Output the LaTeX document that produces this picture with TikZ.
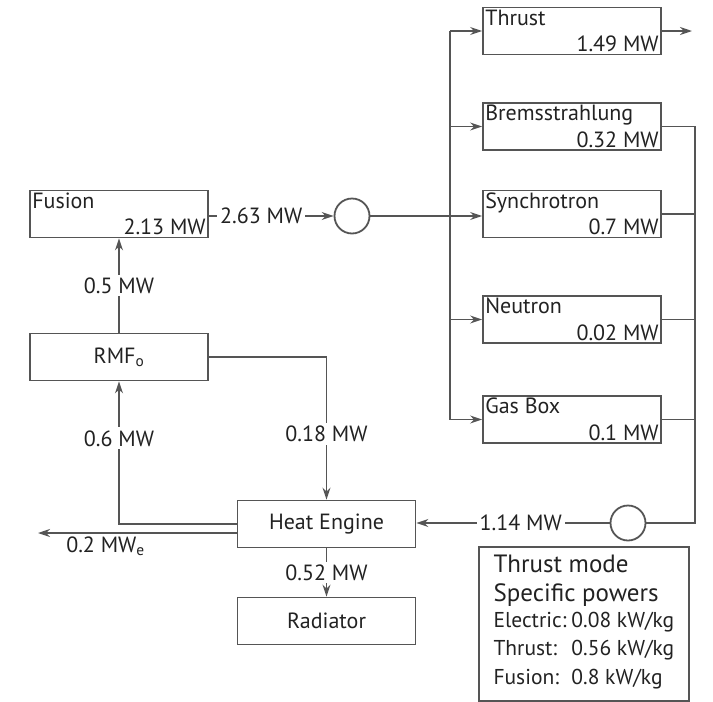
\documentclass[tikz,border=0pt]{standalone}
\usepackage{fontspec}
\setmainfont{PT Sans}
\usetikzlibrary{positioning,arrows.meta,calc}
\definecolor{linegray}{HTML}{555555}
\definecolor{txtgray}{HTML}{222222}

\begin{document}
\begin{tikzpicture}[
    x=1pt, y=-1pt,
    every node/.style={inner sep=3pt, text=txtgray, font=\fontsize{22}{26}\selectfont},
    >={Stealth[length=12pt,width=8pt]},
    box/.style={draw=linegray, line width=1.8pt, minimum width=178pt, minimum height=47pt},
    junc/.style={circle, draw=linegray, line width=1.8pt, minimum size=35pt, inner sep=0pt},
    flow/.style={draw=linegray, line width=1.8pt},
    val/.style={fill=white, inner sep=3pt}
]
\useasboundingbox (0,0) rectangle (713,702);

% Cajas de la izquierda
\node[box] (fusion) at (119,214) {};
\node[anchor=north west] (fusionT) at (fusion.north west) {Fusion};
\node[anchor=south east] (fusionV) at (fusion.south east) {2.13 MW};
\node[box] (rmf) at (119,357) {RMF\textsubscript{o}};
\node[box] (heat) at (326.5,524) {Heat Engine};
\node[box] (rad) at (326.5,621) {Radiator};

% Cajas de la derecha
\node[box] (thrust) at (572,31) {};
\node[anchor=north west] (thrustT) at (thrust.north west) {Thrust};
\node[anchor=south east] (thrustV) at (thrust.south east) {1.49 MW};
\node[box] (brems) at (572,126.5) {};
\node[anchor=north west] (bremsT) at (brems.north west) {Bremsstrahlung};
\node[anchor=south east] (bremsV) at (brems.south east) {0.32 MW};
\node[box] (synch) at (572,214) {};
\node[anchor=north west] (synchT) at (synch.north west) {Synchrotron};
\node[anchor=south east] (synchV) at (synch.south east) {0.7 MW};
\node[box] (neutron) at (572,319.5) {};
\node[anchor=north west] (neutronT) at (neutron.north west) {Neutron};
\node[anchor=south east] (neutronV) at (neutron.south east) {0.02 MW};
\node[box] (gasbox) at (572,419.5) {};
\node[anchor=north west] (gasboxT) at (gasbox.north west) {Gas Box};
\node[anchor=south east] (gasboxV) at (gasbox.south east) {0.1 MW};

% Nodos de suma
\node[junc] (sumA) at (352,216) {};
\node[junc] (sumB) at (628,523) {};
\coordinate (busL) at (450,0);
\coordinate (busR) at (695,0);
\coordinate (thrustOut) at (692,31);
\coordinate (elecOut) at (38,533);

% Cuadro de potencias
\node[draw=linegray, line width=1.8pt, anchor=north west, minimum width=210pt,
      minimum height=154pt, align=left, inner xsep=7pt, inner ysep=4pt] (info) at (478,546)
    {{\fontsize{25}{30}\selectfont Thrust mode}\\[3pt]
     {\fontsize{25}{30}\selectfont Specific powers}\\[1pt]
     \fontsize{21.5}{27}\selectfont
     \begin{tabular}{@{}l@{\hspace{5pt}}l@{}}
       Electric: & 0.08 kW/kg\\[1pt]
       Thrust: & 0.56 kW/kg\\[2pt]
       Fusion: & 0.8 kW/kg
     \end{tabular}};

% Flechas de la fusion
\draw[flow,->] (fusion.east |- sumA) -- node[val, pos=0.42] {2.63 MW} (sumA.west);
\draw[flow,->] (sumA.east) -- (synch.west |- sumA);
\draw[flow,->] (rmf.north) -- node[val] {0.5 MW} (fusion.south);

% Barra izquierda
\draw[flow] (thrust.west -| busL) -- (gasbox.west -| busL);
\draw[flow,->] (thrust.west -| busL) -- (thrust.west);
\draw[flow,->] (brems.west -| busL) -- (brems.west);
\draw[flow,->] (neutron.west -| busL) -- (neutron.west);
\draw[flow,->] (gasbox.west -| busL) -- (gasbox.west);
\draw[flow,->] (thrust.east) -- (thrustOut);

% Barra derecha
\draw[flow] (brems.east) -- (brems.east -| busR) -- (sumB.east -| busR) -- (sumB.east);
\draw[flow] (synch.east) -- (synch.east -| busR);
\draw[flow] (neutron.east) -- (neutron.east -| busR);
\draw[flow] (gasbox.east) -- (gasbox.east -| busR);

% Motor termico
\draw[flow,->] (sumB.west) -- node[val, pos=0.46] {1.14 MW} (heat.east |- sumB);
\draw[flow,->] (rmf.east) -| node[val, pos=0.77] {0.18 MW} (heat.north);
\draw[flow,->] (heat.west) -| node[val, pos=0.8] {0.6 MW} (rmf.south);
\draw[flow,->] ([yshift=-9pt]heat.west) -- node[below, pos=0.66] {0.2 MW\textsubscript{e}} (elecOut);
\draw[flow,->] (heat.south) -- node[val] {0.52 MW} (rad.north);

\end{tikzpicture}
\end{document}
